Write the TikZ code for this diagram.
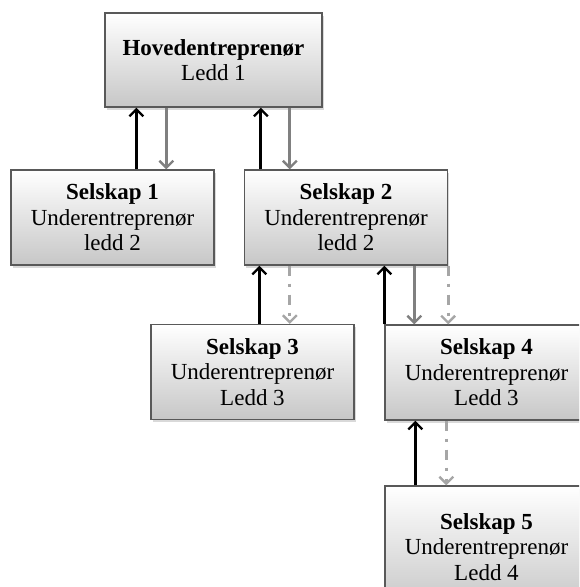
\documentclass[tikz,border=0pt]{standalone}
\usepackage{fontspec}
\setmainfont{Liberation Serif}
\usepackage{tikz}
\usetikzlibrary{arrows.meta,shadows}

\begin{document}
\begin{tikzpicture}[
x=1pt, y=-1pt,
font=\fontsize{23}{25.5}\selectfont,
box/.style={
    draw=black!65, line width=1.3pt,
    top color=white, bottom color=black!22,
    minimum width=203pt, minimum height=95pt,
    align=center, inner sep=0pt,
    drop shadow={shadow xshift=1.5pt, shadow yshift=-2.5pt, opacity=.3}},
upline/.style={draw=black, line width=3pt, -{Straight Barb[length=7pt,width=14pt,line width=2.4pt]}},
downline/.style={draw=black!50, line width=3pt, -{Straight Barb[length=7pt,width=14pt,line width=2.4pt]}},
optline/.style={draw=black!35, line width=3pt, dash pattern=on 10pt off 8pt on 3pt off 8pt,
    -{Straight Barb[length=7pt,width=14pt,line width=2.4pt]}},
]
\useasboundingbox (0,0) rectangle (579,587);
\clip (0,0) rectangle (579,587);

\node[box, minimum width=217pt, minimum height=94pt] (hoved) at (213.5,60)
    {\textbf{Hovedentreprenør}\\ Ledd 1};
\node[box] (s1) at (112.5,217.5) {\textbf{Selskap 1}\\ Underentreprenør\\ ledd 2};
\node[box] (s2) at (346,217.5) {\textbf{Selskap 2}\\ Underentreprenør\\ ledd 2};
\node[box] (s3) at (252.5,372) {\textbf{Selskap 3}\\ Underentreprenør\\ Ledd 3};
\node[box] (s4) at (486.5,372.5) {\textbf{Selskap 4}\\ Underentreprenør\\ Ledd 3};
\node[box, minimum height=122pt] (s5) at (486.5,547) {\textbf{Selskap 5}\\ Underentreprenør\\ Ledd 4};

% ledd 1 - ledd 2
\draw[upline] ([xshift=126pt]s1.north west) -- ([xshift=126pt]s1.north west |- hoved.south);
\draw[downline] ([xshift=62pt]hoved.south west) -- ([xshift=62pt]hoved.south west |- s1.north);
\draw[upline] ([xshift=17pt]s2.north west) -- ([xshift=17pt]s2.north west |- hoved.south);
\draw[downline] ([xshift=46pt]s2.north west |- hoved.south) -- ([xshift=46pt]s2.north west);

% ledd 2 - ledd 3
\draw[upline] ([xshift=109pt]s3.north west) -- ([xshift=109pt]s3.north west |- s2.south);
\draw[optline] ([xshift=46pt]s2.south west) -- ([xshift=46pt]s2.south west |- s3.north);
\draw[upline] (s4.north west) -- (s4.north west |- s2.south);
\draw[downline] ([xshift=30pt]s4.north west |- s2.south) -- ([xshift=30pt]s4.north west);
\draw[optline] (s2.south east) -- (s2.south east |- s4.north);

% ledd 3 - ledd 4
\draw[upline] ([xshift=31pt]s5.north west) -- ([xshift=31pt]s5.north west |- s4.south);
\draw[optline] ([xshift=62pt]s4.south west) -- ([xshift=62pt]s4.south west |- s5.north);
\end{tikzpicture}
\end{document}
